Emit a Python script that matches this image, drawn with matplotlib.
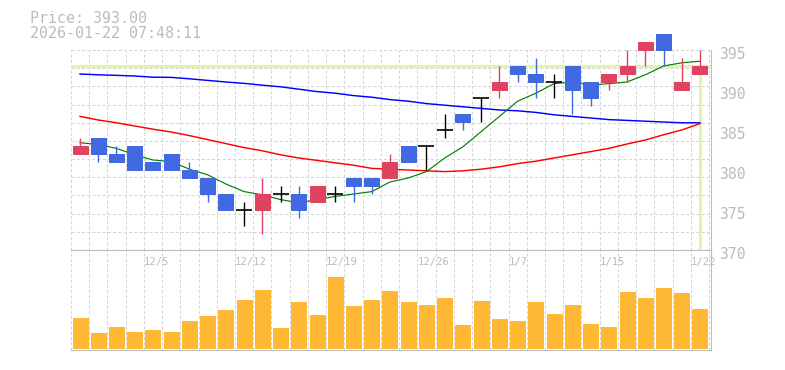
import matplotlib
matplotlib.use('Agg')
import matplotlib.pyplot as plt
import matplotlib.transforms as mtransforms
import numpy as np

# ---------------- data ----------------
dates = ['12/1', '12/2', '12/3', '12/4', '12/5', '12/8', '12/9', '12/10', '12/11', '12/12',
         '12/15', '12/16', '12/17', '12/18', '12/19', '12/22', '12/23', '12/24', '12/25', '12/26',
         '12/29', '12/30', '1/5', '1/6', '1/7', '1/8', '1/9', '1/13', '1/14', '1/15',
         '1/16', '1/19', '1/20', '1/21', '1/22']
opens = [382, 384, 382, 383, 381, 382, 380, 379, 377, 375, 375, 377, 377, 376, 377, 379, 379, 379,
         383, 383, 385, 387, 389, 390, 393, 392, 391, 393, 391, 391, 392, 395, 397, 390, 392]
highs = [384, 384, 383, 383, 381, 382, 381, 379, 377, 376, 379, 378, 378, 378, 378, 379, 379, 382,
         383, 383, 387, 387, 389, 393, 393, 394, 392, 393, 391, 392, 395, 396, 397, 394, 395]
lows = [382, 381, 381, 380, 380, 380, 379, 376, 375, 373, 372, 376, 374, 376, 376, 376, 377, 379,
        381, 380, 384, 385, 386, 389, 391, 389, 389, 387, 388, 390, 391, 393, 393, 390, 392]
closes = [383, 382, 381, 380, 380, 380, 379, 377, 375, 375, 377, 377, 375, 378, 377, 378, 378, 381,
          381, 383, 385, 386, 389, 391, 392, 391, 391, 390, 389, 392, 393, 396, 395, 391, 393]
volumes = [300, 150, 210, 160, 180, 160, 270, 320, 380, 480, 580, 200, 460, 330, 710, 420, 480, 570,
           460, 430, 500, 230, 470, 290, 270, 460, 340, 430, 240, 210, 560, 500, 600, 550, 390]
ma_short = [383.4, 383.2, 382.7, 381.9, 381.25, 381.05, 380.1, 379.4, 378.25, 377.3, 376.9, 376.3,
            375.9, 376.3, 376.7, 377.0, 377.3, 378.5, 379.0, 379.8, 381.5, 382.9, 384.8, 386.7,
            388.6, 389.6, 390.8, 391.0, 390.6, 390.8, 391.0, 391.9, 393.0, 393.4, 393.6]
ma_mid = [386.7, 386.25, 385.9, 385.5, 385.1, 384.75, 384.3, 383.8, 383.3, 382.8, 382.4, 381.9,
          381.5, 381.2, 380.9, 380.6, 380.2, 380.1, 380.0, 379.9, 379.8, 379.9, 380.1, 380.4,
          380.8, 381.1, 381.5, 381.9, 382.3, 382.7, 383.25, 383.75, 384.4, 385.0, 385.8]
ma_long = [392.0, 391.9, 391.83, 391.75, 391.6, 391.58, 391.4, 391.2, 391.0, 390.83, 390.6, 390.4,
           390.1, 389.8, 389.6, 389.3, 389.1, 388.8, 388.6, 388.3, 388.1, 387.9, 387.7, 387.5,
           387.4, 387.2, 386.9, 386.7, 386.5, 386.3, 386.2, 386.1, 386.0, 385.9, 385.9]
label_dates = ['12/5', '12/12', '12/19', '12/26', '1/7', '1/15', '1/22']
price_ticks = [370, 375, 380, 385, 390, 395]
last_price = 393.00
title_lines = ['Price: 393.00', '2026-01-22 07:48:11']

# ---------------- style ----------------
W, H = 785, 370
grid_c = '#d6d6d6'
spine_c = '#bdbdbd'
text_c = '#bcbcbc'
up_c = '#e0435f'
down_c = '#4169e1'
vol_c = '#ffb833'
lime = '#e0f5a8'
mono = 'DejaVu Sans Mono'

fig = plt.figure(figsize=(W / 100, H / 100), dpi=100)


def px_rect(x0, y0, x1, y1):
    return [x0 / W, 1 - y1 / H, (x1 - x0) / W, (y1 - y0) / H]


ax = fig.add_axes(px_rect(70.8, 50, 710.5, 250))
axv = fig.add_axes(px_rect(70.8, 250, 710.5, 349.5))

n = len(closes)
x = np.arange(n)
o = np.array(opens, float)
h = np.array(highs, float)
l = np.array(lows, float)
c = np.array(closes, float)

for a in (ax, axv):
    a.set_xlim(-0.505, 34.577)
    for k in range(n + 1):
        a.axvline(k - 0.5, color=grid_c, lw=0.75, ls=(0, (3, 2)), zorder=0.5)
    a.set_xticks([])
    a.spines['left'].set_visible(False)
    for s in ('right', 'bottom', 'top'):
        a.spines[s].set_color(spine_c)
        a.spines[s].set_linewidth(0.8)

ax.spines['top'].set_visible(False)
ax.set_ylim(370, 395)
for k in range(11):
    ax.axhline(395 - k * 25 / 11, color=grid_c, lw=0.75, ls=(0, (3, 2)), zorder=0.5)

# current price lines
ax.axhline(last_price, color=lime, lw=2.2, zorder=1)
ax.vlines(x[-1], 370, last_price, color=lime, lw=2.2, zorder=1)

# moving averages
ax.plot(x, ma_long, color='#0000ff', lw=1.05, zorder=2)
ax.plot(x, ma_mid, color='#ff0000', lw=1.05, zorder=2)
ax.plot(x, ma_short, color='#008000', lw=0.85, zorder=2)

# candles
up = c > o
down = c < o
doji = c == o
wick_cols = np.where(up, up_c, np.where(down, down_c, 'black'))
ax.vlines(x, l, h, colors=list(wick_cols), lw=1.0, zorder=3, clip_on=False)
bw = 0.823
for mask, col in ((up, up_c), (down, down_c)):
    bars = ax.bar(x[mask], np.abs(c - o)[mask], bottom=np.minimum(o, c)[mask], width=bw,
                  color=col, edgecolor=col, linewidth=0.72, zorder=4)
    for p in bars:
        p.set_clip_on(False)
ax.hlines(c[doji], x[doji] - 0.44, x[doji] + 0.44, colors='black', lw=1.2, zorder=4, clip_on=False)

# price axis labels
ax.yaxis.tick_right()
ax.set_yticks(price_ticks)
ax.set_yticklabels([str(t) for t in price_ticks], family=mono)
ax.tick_params(axis='y', length=0, pad=6.3, labelsize=10.6, labelcolor=text_c)
off = mtransforms.ScaledTranslation(0, -3.0 / 100, fig.dpi_scale_trans)
for t in ax.yaxis.get_major_ticks():
    t.label2.set_transform(t.label2.get_transform() + off)

# volume
axv.bar(x, volumes, width=bw, color=vol_c, edgecolor=vol_c, linewidth=0.72, zorder=2)
axv.set_ylim(-12, 985)
axv.set_yticks([])
trans = mtransforms.blended_transform_factory(axv.transData, axv.transAxes)
for d in label_dates:
    i = dates.index(d)
    axv.text(i - 0.5, 1 - 11.7 / 99.5, d, transform=trans, ha='left', va='center',
             fontsize=7.6, color=text_c, family=mono, zorder=5)

# header
fig.text(30 / W, 1 - 23.3 / H, title_lines[0], fontsize=10.8, family=mono, color=text_c, va='baseline')
fig.text(30 / W, 1 - 38.3 / H, title_lines[1], fontsize=10.8, family=mono, color=text_c, va='baseline')

fig.savefig('out.png', dpi=100)
